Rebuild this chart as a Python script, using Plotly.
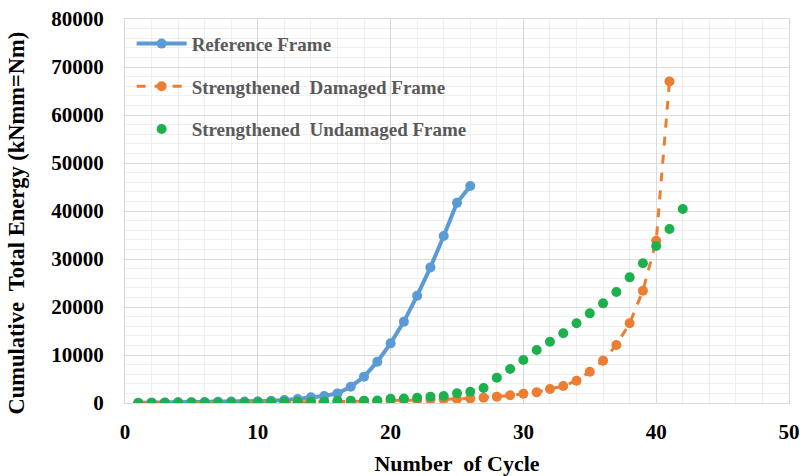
import plotly.graph_objects as go

ref_cycles = list(range(1, 27))
ref_energy = [50, 80, 120, 150, 180, 210, 250, 290, 330, 380, 450, 600, 830, 1180,
              1460, 2000, 3400, 5490, 8610, 12430, 16950, 22350, 28250, 34800, 41700, 45200]

dam_cycles = list(range(1, 42))
dam_energy = [0, 10, 20, 30, 40, 50, 60, 80, 100, 120, 140, 170, 200, 230, 260, 290,
              330, 370, 420, 480, 550, 620, 690, 760, 830, 970, 1110, 1320, 1600, 1940,
              2220, 2920, 3540, 4650, 6520, 8820, 12080, 16600, 23400, 33800, 67000]

und_cycles = list(range(1, 43))
und_energy = [0, 20, 60, 100, 100, 100, 100, 100, 120, 140, 200, 250, 250, 280, 280, 480,
              490, 490, 500, 900, 930, 1110, 1320, 1460, 2020, 2360, 3120, 5280, 7080, 8960,
              11040, 12770, 14520, 16600, 18680, 20760, 23120, 26180, 29100, 32700, 36250, 40400]

y_title = "Cumulative  Total Energy (kNmm=Nm)"
x_title = "Number  of Cycle"

FONT = "Liberation Serif"

fig = go.Figure()
fig.add_trace(go.Scatter(x=ref_cycles, y=ref_energy, mode="lines+markers",
                         name="Reference Frame", legendgroup="a",
                         line=dict(color="#5B9BD5", width=4),
                         marker=dict(color="#5B9BD5", size=10)))
fig.add_trace(go.Scatter(x=dam_cycles, y=dam_energy, mode="lines+markers",
                         name="Strengthened  Damaged Frame", legendgroup="b",
                         line=dict(color="#ED7D31", width=3, dash="dash"),
                         marker=dict(color="#ED7D31", size=10)))
fig.add_trace(go.Scatter(x=und_cycles, y=und_energy, mode="markers",
                         name="Strengthened  Undamaged Frame", legendgroup="c",
                         marker=dict(color="#1DB04E", size=10)))

fig.update_layout(
    width=802, height=476,
    margin=dict(l=125, r=13, t=19, b=73),
    paper_bgcolor="white", plot_bgcolor="white",
    font=dict(family=FONT, color="black"),
    showlegend=True,
    legend=dict(x=0.01, y=0.985, xanchor="left", yanchor="top",
                bgcolor="rgba(0,0,0,0)", traceorder="grouped", tracegroupgap=15,
                itemwidth=50,
                font=dict(family=FONT, size=19, color="#595959", weight="bold")),
    xaxis=dict(range=[0, 50], dtick=10, tick0=0, automargin=False,
               showgrid=True, gridcolor="#D9D9D9", gridwidth=1,
               minor=dict(dtick=2, showgrid=True, gridcolor="#EFEFEF", gridwidth=1),
               showline=True, linecolor="#D9D9D9", mirror=True,
               zeroline=False, ticks="", ticklabelstandoff=10,
               tickfont=dict(family=FONT, size=21, color="black", weight="bold"),
               title=dict(text=x_title, standoff=12,
                          font=dict(family=FONT, size=22, color="black", weight="bold"))),
    yaxis=dict(range=[0, 80000], dtick=10000, tick0=0, automargin=False,
               tickformat="d",
               showgrid=True, gridcolor="#D9D9D9", gridwidth=1,
               minor=dict(dtick=2000, showgrid=True, gridcolor="#EFEFEF", gridwidth=1),
               showline=True, linecolor="#D9D9D9", mirror=True,
               zeroline=False, ticks="", ticklabelstandoff=16,
               tickfont=dict(family=FONT, size=21, color="black", weight="bold")),
    annotations=[dict(text=y_title, xref="paper", yref="paper",
                      x=-0.1627, y=0.470, xanchor="center", yanchor="middle",
                      textangle=-90, showarrow=False,
                      font=dict(family=FONT, size=22.5, color="black", weight="bold"))],
)

fig.write_html("out.html", config={"displayModeBar": False},
               post_script="document.body.style.margin='0';document.body.style.overflow='hidden';")
